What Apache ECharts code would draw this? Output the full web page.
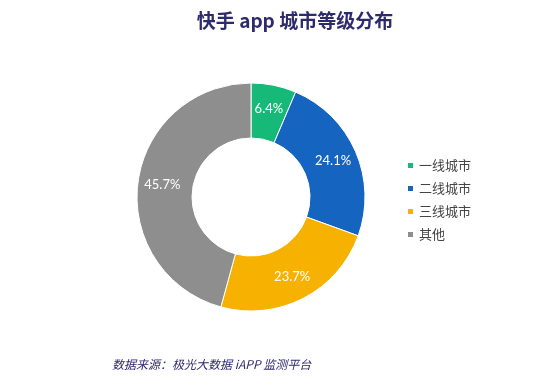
<!DOCTYPE html>
<html>
<head>
<meta charset="utf-8">
<script src="https://cdn.jsdelivr.net/npm/echarts@6/dist/echarts.min.js"></script>
<style>
  html, body { margin: 0; padding: 0; background: #fff; }
  #chart { width: 550px; height: 388px; }
</style>
</head>
<body>
<div id="chart"></div>
<script>
  // 城市等级分布数据
  var categories = ['一线城市', '二线城市', '三线城市', '其他']
  var values = [6.4, 24.1, 23.7, 45.7]
  var colors = ['#17b978', '#1565c0', '#f7b100', '#8e8e8e']

  var chart = echarts.init(document.getElementById('chart'))
  chart.setOption({
    animation: false,
    color: colors,
    title: {
      text: '快手 app 城市等级分布',
      left: 290,
      textAlign: 'center',
      top: 6,
      textStyle: {
        fontFamily: 'Noto Sans CJK SC',
        fontSize: 19,
        fontWeight: 'bold',
        color: '#2d2a6e'
      }
    },
    legend: {
      orient: 'vertical',
      left: 401,
      top: 154,
      itemWidth: 7,
      itemHeight: 7,
      itemGap: 10,
      icon: 'rect',
      data: categories,
      textStyle: {
        fontFamily: 'Noto Sans CJK SC',
        fontSize: 13,
        color: '#444'
      }
    },
    graphic: [{
      type: 'text',
      left: 112,
      top: 358,
      style: {
        text: '数据来源：极光大数据 iAPP 监测平台',
        font: 'italic 12px "Noto Sans CJK SC"',
        fill: '#2d2a6e'
      }
    }],
    series: [{
      type: 'pie',
      center: [251, 197],
      radius: [59, 114],
      startAngle: 90,
      itemStyle: { borderColor: '#fff', borderWidth: 1 },
      label: {
        position: 'inside',
        formatter: '{c}%',
        color: '#fff',
        fontSize: 13,
        fontFamily: 'Lato'
      },
      labelLine: { show: false },
      data: categories.map(function (name, i) {
        return { name: name, value: values[i] }
      })
    }]
  })
</script>
</body>
</html>
